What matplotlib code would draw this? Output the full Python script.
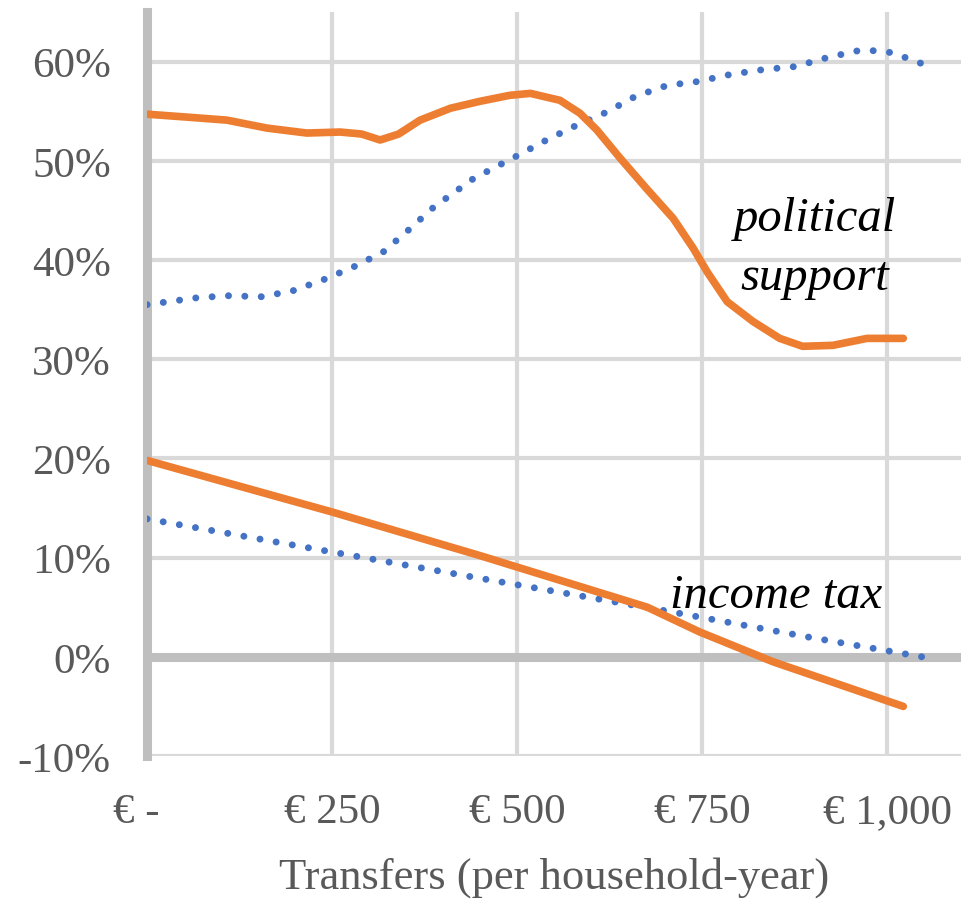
import matplotlib.pyplot as plt
from matplotlib.ticker import FixedLocator

# Data (transfers in EUR, values in %)
sup_orange_x = [0, 55, 108, 162, 216, 261, 290, 315, 340, 369, 410, 450, 490, 518, 558, 585, 608, 639, 675, 711, 738, 757, 784, 819, 855, 886, 927, 973, 1022]
sup_orange_y = [54.7, 54.4, 54.1, 53.3, 52.8, 52.9, 52.7, 52.1, 52.7, 54.1, 55.3, 56.0, 56.6, 56.8, 56.1, 54.8, 53.1, 50.3, 47.2, 44.2, 41.2, 38.8, 35.8, 33.8, 32.1, 31.3, 31.4, 32.1, 32.1]

sup_blue_x = [0, 68, 110, 155, 197, 238, 279, 319, 353, 387, 441, 500, 540, 581, 621, 660, 703, 745, 788, 833, 876, 919, 961, 983, 1007, 1047]
sup_blue_y = [35.5, 36.2, 36.4, 36.3, 36.9, 38.0, 39.3, 40.8, 43.0, 45.3, 48.2, 50.5, 52.1, 53.6, 54.9, 56.5, 57.6, 58.0, 58.7, 59.2, 59.5, 60.4, 61.1, 61.1, 60.9, 59.8]

tax_orange_x = [0, 250, 450, 676, 747, 846, 1022]
tax_orange_y = [19.8, 14.6, 10.2, 5.0, 2.5, -0.5, -5.0]

tax_blue_x = [0, 240, 436, 696, 893, 1047]
tax_blue_y = [13.9, 10.7, 8.1, 4.7, 2.0, 0.0]

x_ticks = [0, 250, 500, 750, 1000]
x_labels = ['€ -  ', '€ 250', '€ 500', '€ 750', '€ 1,000']
y_ticks = [-10, 0, 10, 20, 30, 40, 50, 60]

orange = '#ED7D31'
blue = '#4472C4'
grid_c = '#D9D9D9'
axis_c = '#BFBFBF'
text_c = '#595959'

plt.rcParams['font.family'] = ['Liberation Serif', 'DejaVu Serif']

fig = plt.figure(figsize=(9.61, 9.04), dpi=100)
ax = fig.add_axes([0.153, 0.1626, 0.847, 0.823])
ax.set_xlim(0, 1100)
ax.set_ylim(-10, 65)

# grid
for yv in y_ticks:
    if yv != 0:
        ax.axhline(yv, color=grid_c, lw=3, zorder=1)
for xv in x_ticks[1:]:
    ax.axvline(xv, color=grid_c, lw=3, zorder=1)
ax.axhline(0, color=axis_c, lw=6.5, zorder=2)

for s in ['top', 'right', 'bottom']:
    ax.spines[s].set_visible(False)
ax.spines['left'].set_color(axis_c)
ax.spines['left'].set_linewidth(6.5)
ax.spines['left'].set_zorder(2)

dots = (0, (0.01, 2.35))
ax.plot(sup_blue_x, sup_blue_y, color=blue, lw=5, linestyle=dots,
        dash_capstyle='round', zorder=3)
ax.plot(tax_blue_x, tax_blue_y, color=blue, lw=5, linestyle=dots,
        dash_capstyle='round', zorder=3)
ax.plot(sup_orange_x, sup_orange_y, color=orange, lw=5.5, solid_capstyle='round',
        solid_joinstyle='round', zorder=4)
ax.plot(tax_orange_x, tax_orange_y, color=orange, lw=5.5, solid_capstyle='round',
        solid_joinstyle='round', zorder=4)

ax.xaxis.set_major_locator(FixedLocator(x_ticks))
ax.set_xticklabels(x_labels)
ax.yaxis.set_major_locator(FixedLocator(y_ticks))
ax.set_yticklabels(['%d%%' % v for v in y_ticks])
ax.tick_params(axis='both', length=0, labelsize=31, labelcolor=text_c)
ax.tick_params(axis='y', pad=26)
ax.tick_params(axis='x', pad=26)
ax.set_xlabel('Transfers (per household-year)', fontsize=32, color=text_c, labelpad=18)

ax.text(903, 43.0, 'political', fontsize=35, style='italic', color='black',
        ha='center', va='baseline', zorder=5)
ax.text(903, 37.1, 'support', fontsize=35, style='italic', color='black',
        ha='center', va='baseline', zorder=5)
ax.text(850, 5.0, 'income tax', fontsize=35, style='italic', color='black',
        ha='center', va='baseline', zorder=5)

fig.savefig('out.png', dpi=100)
